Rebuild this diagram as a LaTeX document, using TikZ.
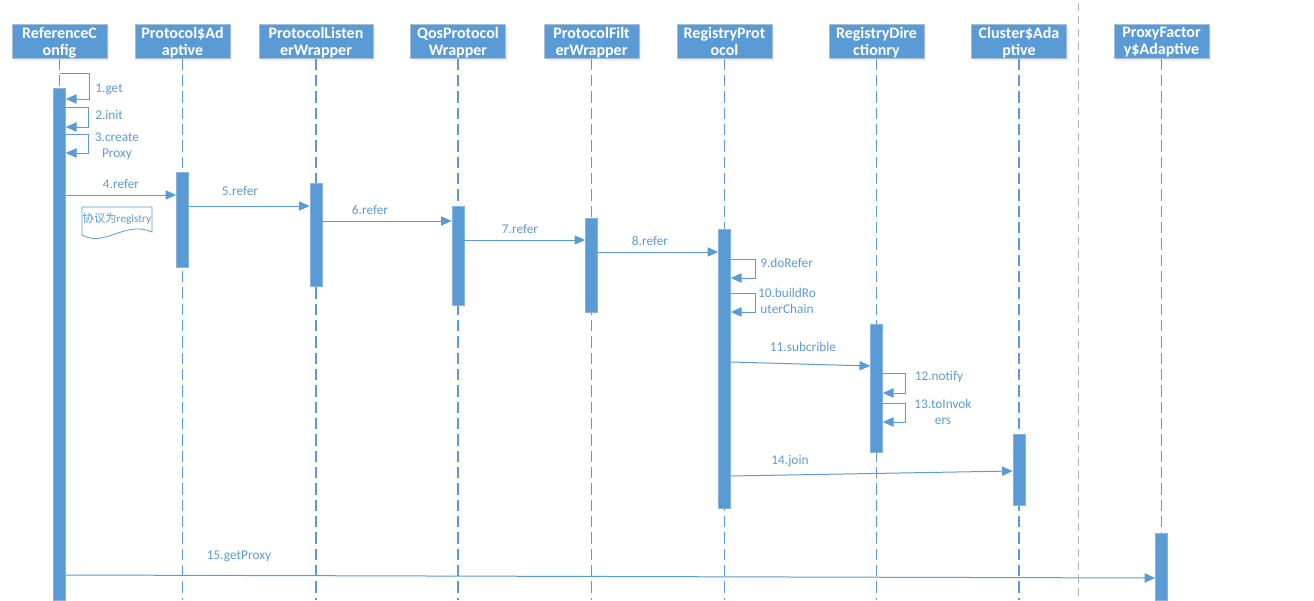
\documentclass[tikz,border=0pt]{standalone}
\usepackage{fontspec}
\setmainfont{Carlito}
\newfontfamily\cjk{Noto Sans CJK SC}
\usetikzlibrary{arrows.meta,positioning,shadows,calc}
\definecolor{SeqBlue}{HTML}{5B9BD5}
\definecolor{BoxEdge}{HTML}{A9BCD2}
\definecolor{SepGrey}{HTML}{B4B4B4}

\begin{document}
\begin{tikzpicture}[x=0.75pt,y=-0.75pt,>={Triangle[length=8pt,width=7pt]},
  head/.style={fill=SeqBlue,draw=BoxEdge,line width=0.75pt,text=white,
    font=\bfseries\fontsize{12}{12.75}\selectfont,align=center,
    minimum width=71.25pt,minimum height=25.5pt,inner sep=1pt,
    text depth=0pt,
    drop shadow={opacity=0.12,shadow xshift=1.5pt,shadow yshift=-2pt}},
  life/.style={SeqBlue,line width=1pt,dash pattern=on 8.5pt off 3.75pt},
  act/.style={fill=SeqBlue,draw=SeqBlue!75,line width=0.5pt,
    minimum width=9pt,inner sep=0pt,anchor=north},
  msg/.style={->,SeqBlue,line width=0.75pt},
  lbl/.style={text=SeqBlue,font=\fontsize{10}{12}\selectfont,inner sep=0pt,align=center}]
  \useasboundingbox (0,0) rectangle (1314,600);

  % participants
  \node[head] (hRC) at (59.5,41) {ReferenceC\\onfig};
  \node[head] (hPA) at (182.5,41) {Protocol\$Ad\\aptive};
  \node[head,minimum width=85.5pt] (hPLW) at (316,41) {ProtocolListen\\erWrapper};
  \node[head] (hQos) at (458,41) {QosProtocol\\Wrapper};
  \node[head] (hPFW) at (591.5,41) {ProtocolFilt\\erWrapper};
  \node[head] (hRP) at (724.5,41) {RegistryProt\\ocol};
  \node[head] (hRD) at (876.5,41) {RegistryDire\\ctionry};
  \node[head] (hCA) at (1019,41) {Cluster\$Ada\\ptive};
  \node[head] (hPF) at (1161.5,41) {ProxyFactor\\y\$Adaptive};

  % lifelines
  \foreach \p in {hRC,hPA,hPLW,hQos,hPFW,hRP,hRD,hCA,hPF}
    \draw[life] (\p.south) -- (\p.south |- 0,600);
  \coordinate (sepTop) at (1078,3);
  \coordinate (sepBot) at (1078,600);
  \draw[SepGrey,line width=0.75pt,dash pattern=on 6pt off 3.75pt] (sepTop) -- (sepBot);

  % activations
  \node[act,minimum height=384pt] (aRC) at (hRC.south |- 0,88) {};
  \node[act,minimum height=71.25pt] (aPA) at (hPA.south |- 0,172) {};
  \node[act,minimum height=77.25pt] (aPLW) at (hPLW.south |- 0,183) {};
  \node[act,minimum height=74.25pt] (aQos) at (hQos.south |- 0,206) {};
  \node[act,minimum height=70.5pt] (aPFW) at (hPFW.south |- 0,218) {};
  \node[act,minimum height=209.25pt] (aRP) at (hRP.south |- 0,229) {};
  \node[act,minimum height=96pt] (aRD) at (hRD.south |- 0,324) {};
  \node[act,minimum height=53.25pt] (aCA) at (hCA.south |- 0,434) {};
  \node[act,minimum height=50.25pt] (aPF) at (hPF.south |- 0,533) {};

  % self calls on ReferenceConfig
  \draw[msg] (hRC.south |- 0,73) -- ++(29.5,0) |- (aRC.east |- 0,99);
  \draw[msg] (aRC.east |- 0,107) -- ++(23,0) |- (aRC.east |- 0,127);
  \draw[msg] (aRC.east |- 0,134) -- ++(23,0) |- (aRC.east |- 0,153);
  \node[lbl,anchor=west] (l1) at (95,89) {1.get};
  \node[lbl,anchor=west] (l2) at (95,115) {2.init};
  \node[lbl] (l3) at (117,146) {3.create\\Proxy};

  % refer chain
  \draw[msg] (aRC.east |- 0,195) -- (aPA.west |- 0,195);
  \node[lbl] (l4) at (121,184) {4.refer};
  \draw[SeqBlue,line width=0.6pt,fill=white] (82,207) -- (152,207) -- (152,232)
    .. controls (125,220) and (105,248) .. (82,235) -- cycle;
  \node[lbl,font=\fontsize{8.5}{9}\selectfont] (note) at (117,219) {{\cjk 协议为}registry};
  \draw[msg] (aPA.east |- 0,206) -- (aPLW.west |- 0,206);
  \node[lbl] (l5) at (240,191) {5.refer};
  \draw[msg] (aPLW.east |- 0,221) -- (aQos.west |- 0,221);
  \node[lbl] (l6) at (370,210) {6.refer};
  \draw[msg] (aQos.east |- 0,240) -- (aPFW.west |- 0,240);
  \node[lbl] (l7) at (520,229) {7.refer};
  \draw[msg] (aPFW.east |- 0,252) -- (aRP.west |- 0,252);
  \node[lbl] (l8) at (650,241) {8.refer};

  % RegistryProtocol
  \draw[msg] (aRP.east |- 0,259) -- ++(25,0) |- (aRP.east |- 0,278);
  \node[lbl,anchor=west] (l9) at (760,263) {9.doRefer};
  \draw[msg] (aRP.east |- 0,293) -- ++(25,0) |- (aRP.east |- 0,312);
  \node[lbl] (l10) at (787,301) {10.buildRo\\uterChain};
  \draw[msg] (aRP.east |- 0,362) -- (aRD.west |- 0,366);
  \node[lbl] (l11) at (803,347) {11.subcrible};

  % RegistryDirectory
  \draw[msg] (aRD.east |- 0,373) -- ++(23,0) |- (aRD.east |- 0,393);
  \node[lbl] (l12) at (939,377) {12.notify};
  \draw[msg] (aRD.east |- 0,403) -- ++(23,0) |- (aRD.east |- 0,422);
  \node[lbl] (l13) at (943,412) {13.toInvok\\ers};

  \draw[msg] (aRP.east |- 0,476) -- (aCA.west |- 0,471);
  \node[lbl] (l14) at (790,461) {14.join};
  \draw[msg] (aRC.east |- 0,575) -- (aPF.west |- 0,578);
  \node[lbl] (l15) at (239,556) {15.getProxy};
\end{tikzpicture}
\end{document}
